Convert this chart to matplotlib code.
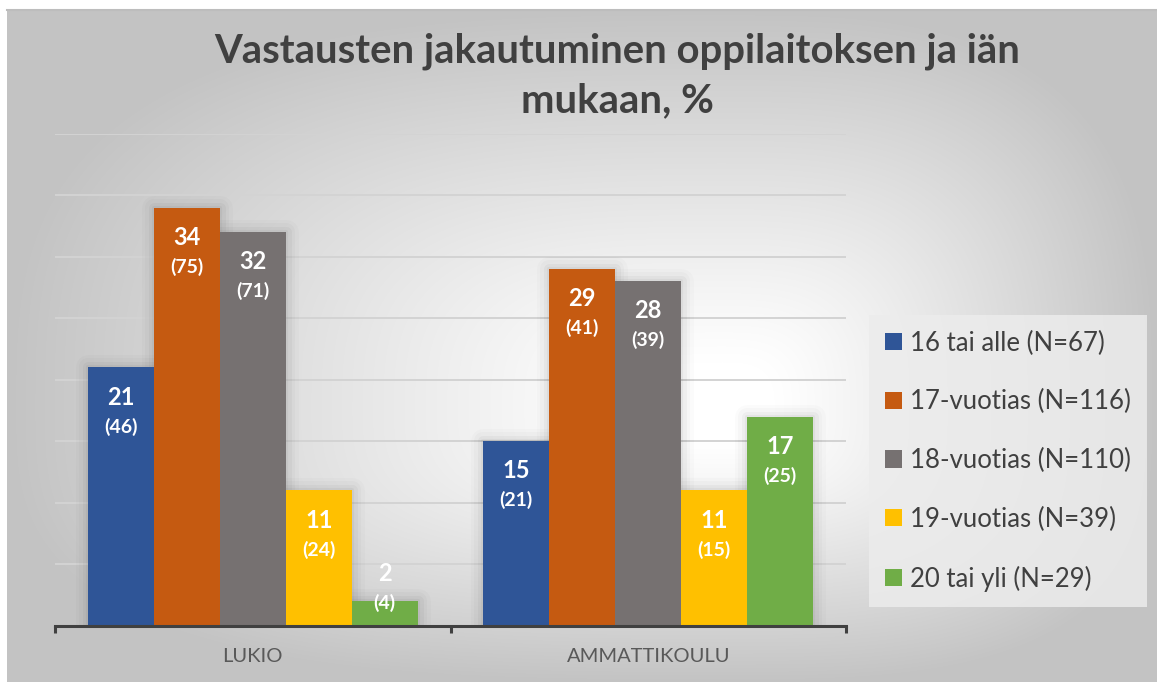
import numpy as np
import matplotlib
matplotlib.use("Agg")
import matplotlib.pyplot as plt
from matplotlib.patches import Patch

plt.rcParams["font.family"] = ["Lato", "DejaVu Sans"]

# ---- data ----
groups = ["LUKIO", "AMMATTIKOULU"]
series = ["16 tai alle (N=67)", "17-vuotias (N=116)", "18-vuotias (N=110)",
          "19-vuotias (N=39)", "20 tai yli (N=29)"]
pct_16 = [21, 15]
pct_17 = [34, 29]
pct_18 = [32, 28]
pct_19 = [11, 11]
pct_20 = [2, 17]
n_16 = [46, 21]
n_17 = [75, 41]
n_18 = [71, 39]
n_19 = [24, 15]
n_20 = [4, 25]

pcts = [pct_16, pct_17, pct_18, pct_19, pct_20]
counts = [n_16, n_17, n_18, n_19, n_20]
colors = ["#2F5597", "#C55A11", "#767171", "#FFC000", "#70AD47"]
INK = "#404040"

W, H = 1157, 682
fig = plt.figure(figsize=(W / 100, H / 100), dpi=100, facecolor="white")

# ---- background: rectangular-ish path gradient, white centre -> grey edges ----
bx0, by_top = 7, 10
bg = fig.add_axes([bx0 / W, 0, 1 - bx0 / W, 1 - by_top / H], zorder=-10)
gw, gh = W - bx0, H - by_top
xx, yy = np.meshgrid(np.arange(gw), np.arange(gh))
cx, cy = 715, 400
u = np.where(xx < cx, (xx - cx) / cx, (xx - cx) / (gw - cx))
v = np.where(yy < cy, (yy - cy) / cy, (yy - cy) / (gh - cy))
d = (np.abs(u) ** 3 + np.abs(v) ** 3) ** (1 / 3)
t = np.clip((d - 0.12) / 0.88, 0, 1) ** 1.1
g = 1 - 0.235 * t
bg.imshow(np.dstack([g, g, g]), aspect="auto", interpolation="bilinear")
bg.set_axis_off()
fig.add_artist(plt.Line2D([bx0 / W, 1], [1 - by_top / H] * 2, transform=fig.transFigure,
                          color="#bdbdbd", lw=1.5))

# ---- main axes ----
ax = fig.add_axes([55 / W, (H - 625.8) / H, 791 / W, 492 / H])
ax.set_facecolor("none")
ax.set_xlim(-0.5, 1.5)
ax.set_ylim(0, 40)
ax.set_yticks(np.arange(5, 41, 5))
ax.yaxis.grid(True, color="#d3d3d3", lw=1.4)
ax.set_axisbelow(True)
ax.tick_params(axis="y", left=False, labelleft=False)
for s in ["top", "right", "left"]:
    ax.spines[s].set_visible(False)
ax.spines["bottom"].set_color(INK)
ax.spines["bottom"].set_linewidth(2.2)
ax.spines["bottom"].set_zorder(5)

x = np.arange(len(groups))
bw = 0.1669
for i, (vals, cnts, col) in enumerate(zip(pcts, counts, colors)):
    xs = x + (i - 2) * bw
    # soft shadow
    for lw, a in [(18, 0.015), (13, 0.02), (8, 0.03), (3, 0.04)]:
        ax.bar(xs, vals, bw, color="none", edgecolor=(0, 0, 0, a), linewidth=lw,
               joinstyle="round", zorder=1)
    ax.bar(xs, vals, bw, color=col, zorder=3, linewidth=0)
    for xi, val, c in zip(xs, vals, cnts):
        y2 = max(val - 4.8, 1.85)
        y1 = y2 + 2.4
        ax.text(xi, y1, f"{val}", ha="center", va="center", color="white",
                fontsize=17, fontweight="bold", zorder=6)
        ax.text(xi, y2, f"({c})", ha="center", va="center", color="white",
                fontsize=14, fontweight="bold", zorder=6)

ax.set_xticks(x)
ax.set_xticklabels(groups, fontsize=14.5, color="#595959")
ax.set_xticks([-0.5, 0.5, 1.5], minor=True)
ax.tick_params(axis="x", which="major", length=0, pad=16)
ax.tick_params(axis="x", which="minor", length=5, width=2.2, color=INK, direction="out")

# ---- title ----
fig.text(617 / W, 1 - 76 / H, "Vastausten jakautuminen oppilaitoksen ja iän\nmukaan, %",
         ha="center", va="center", fontsize=28.8, fontweight="bold", color=INK,
         linespacing=1.42)

# ---- legend ----
handles = [Patch(facecolor=c, edgecolor="none") for c in colors]
leg = fig.legend(handles, series, loc="center left",
                 bbox_to_anchor=(869 / W, 1 - 461 / H), borderaxespad=0,
                 fontsize=18.5, handlelength=0.66, handleheight=0.66,
                 handletextpad=0.31, labelspacing=1.31, borderpad=0.62,
                 labelcolor=INK, frameon=True, fancybox=False)
leg.get_frame().set_facecolor("#ececec")
leg.get_frame().set_edgecolor("none")
leg.get_frame().set_alpha(0.85)

fig.savefig("out.png", dpi=100, facecolor="white")
